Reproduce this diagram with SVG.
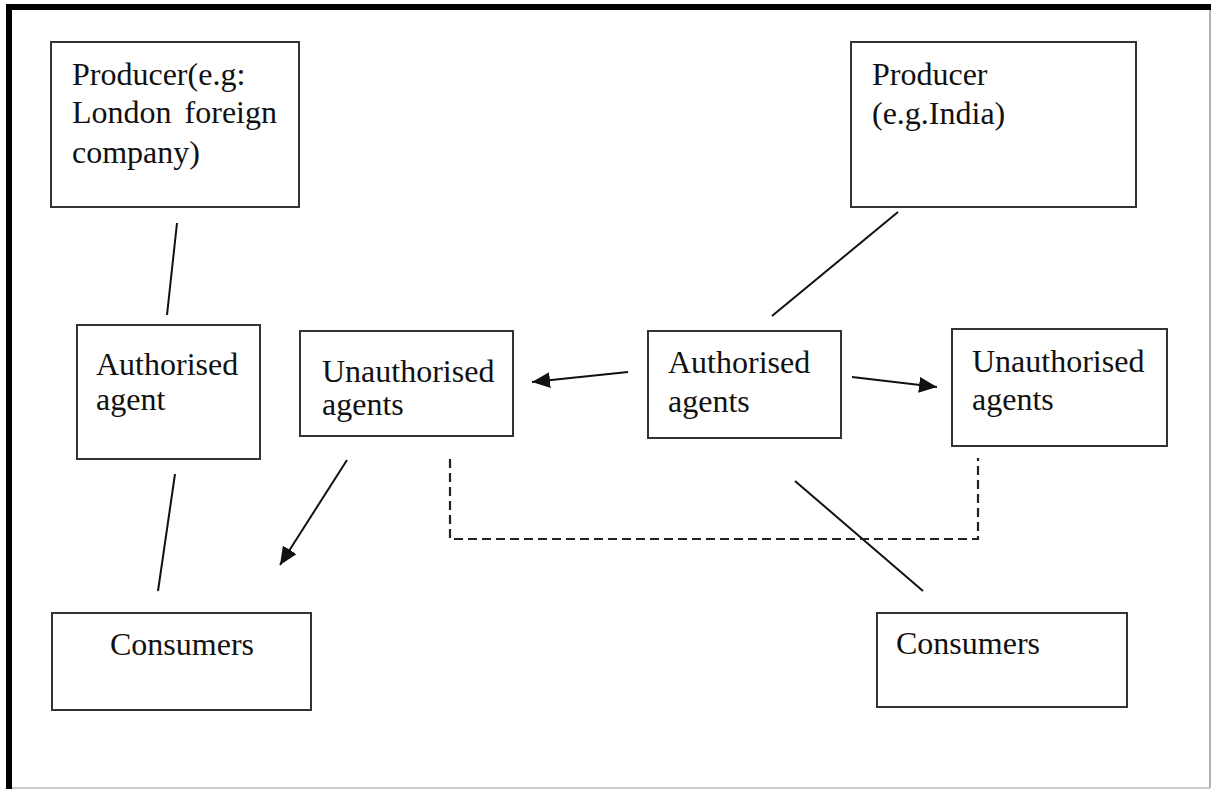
<svg xmlns="http://www.w3.org/2000/svg" width="1212" height="789" viewBox="0 0 1212 789">
<style>
.box{fill:#fff;stroke:#333;stroke-width:2}
.t{font-family:"Liberation Serif","Times New Roman",serif;font-size:32px;fill:#111}
.ln{stroke:#111;stroke-width:2;fill:none}
.dash{stroke:#222;stroke-width:2.2;fill:none;stroke-dasharray:9 5}
</style>
<defs>
<marker id="ah" markerUnits="userSpaceOnUse" markerWidth="20" markerHeight="16" refX="18" refY="8" orient="auto">
<path d="M0,0 L18,8 L0,16 Z" fill="#111"/>
</marker>
</defs>
<rect x="0" y="0" width="1212" height="789" fill="#fff"/>
<g id="frame">
<line x1="1210" y1="7" x2="1210" y2="788" stroke="#999" stroke-width="1.5"/>
<line x1="9" y1="788" x2="1210" y2="788" stroke="#bbb" stroke-width="1.5"/>
<line x1="9" y1="4" x2="9" y2="789" stroke="#000" stroke-width="6"/>
<line x1="6" y1="7" x2="1211" y2="7" stroke="#000" stroke-width="6"/>
</g>
<g id="connectors">
<line class="ln" x1="177" y1="223" x2="167" y2="315"/>
<line class="ln" x1="175" y1="474" x2="158" y2="591"/>
<line class="ln" x1="898" y1="212" x2="772" y2="316"/>
<line class="ln" x1="628" y1="372" x2="532" y2="382" marker-end="url(#ah)"/>
<line class="ln" x1="852" y1="377" x2="937" y2="387" marker-end="url(#ah)"/>
<line class="ln" x1="347" y1="460" x2="280" y2="565" marker-end="url(#ah)"/>
<line class="ln" x1="795" y1="481" x2="923" y2="591"/>
<path class="dash" d="M450,459 L450,539 L978,539 L978,458"/>
</g>
<g id="producer-london">
<rect class="box" x="51" y="42" width="248" height="165"/>
<text class="t" x="72" y="85">Producer(e.g:</text>
<text class="t" x="72" y="123">London</text>
<text class="t" x="277" y="123" text-anchor="end">foreign</text>
<text class="t" x="72" y="163">company)</text>
</g>
<g id="producer-india">
<rect class="box" x="851" y="42" width="285" height="165"/>
<text class="t" x="872" y="85">Producer</text>
<text class="t" x="872" y="124">(e.g.India)</text>
</g>
<g id="authorised-agent">
<rect class="box" x="77" y="325" width="183" height="134"/>
<text class="t" x="96" y="375">Authorised</text>
<text class="t" x="96" y="410">agent</text>
</g>
<g id="unauthorised-left">
<rect class="box" x="300" y="331" width="213" height="105"/>
<text class="t" x="322" y="382">Unauthorised</text>
<text class="t" x="322" y="415">agents</text>
</g>
<g id="authorised-agents">
<rect class="box" x="648" y="331" width="193" height="107"/>
<text class="t" x="668" y="373">Authorised</text>
<text class="t" x="668" y="412">agents</text>
</g>
<g id="unauthorised-right">
<rect class="box" x="952" y="329" width="215" height="117"/>
<text class="t" x="972" y="372">Unauthorised</text>
<text class="t" x="972" y="410">agents</text>
</g>
<g id="consumers-left">
<rect class="box" x="52" y="613" width="259" height="97"/>
<text class="t" x="110" y="655">Consumers</text>
</g>
<g id="consumers-right">
<rect class="box" x="877" y="613" width="250" height="94"/>
<text class="t" x="896" y="654">Consumers</text>
</g>
</svg>
